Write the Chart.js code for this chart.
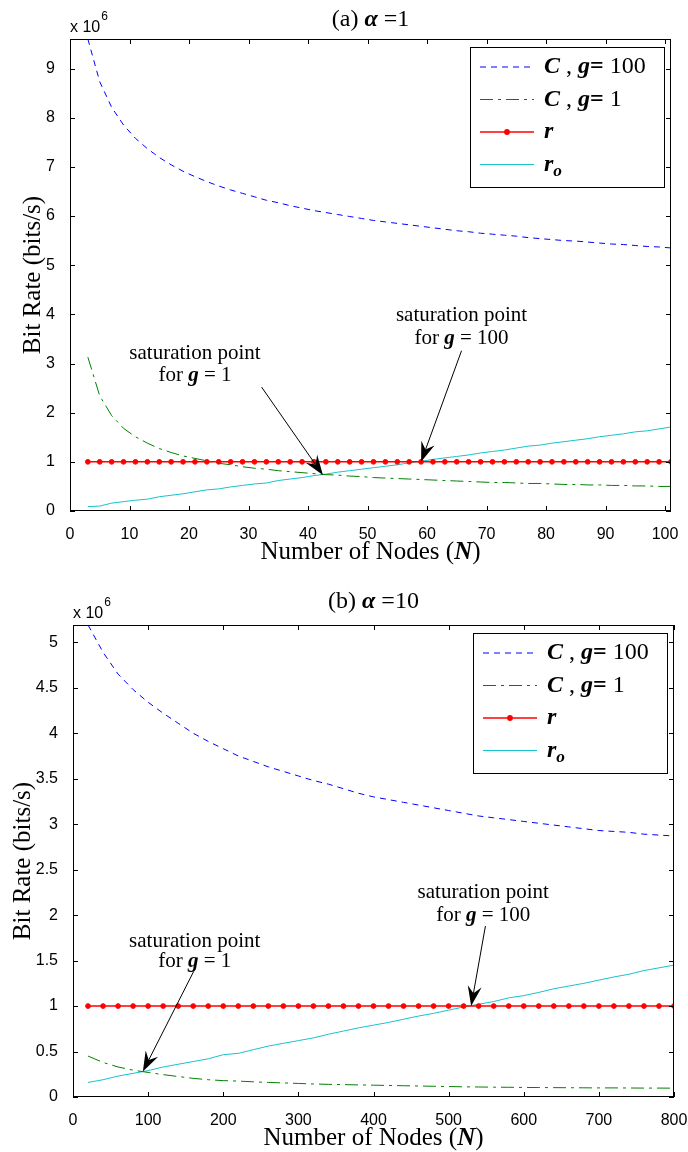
<!DOCTYPE html>
<html>
<head>
<meta charset="utf-8">
<title>Bit rate vs number of nodes</title>
<script src="https://cdn.jsdelivr.net/npm/chart.js@4.4.1/dist/chart.umd.min.js"></script>
<style>
  body { margin: 0; background: #fff; }
  .panel { position: absolute; left: 0; width: 688px; height: 576px; }
</style>
</head>
<body>
<div class="panel" style="top:0"><canvas id="chartA" width="688" height="576"></canvas></div>
<div class="panel" style="top:576px"><canvas id="chartB" width="688" height="576"></canvas></div>
<script>
// (a) alpha = 1, values in units of 10^6 bits/s
const nodesA = [3, 5, 7, 9, 11, 13, 15, 17, 19, 21, 23, 25, 27, 29, 31, 33, 35, 37, 39, 41, 43, 45, 47, 49, 51,
                53, 55, 57, 59, 61, 63, 65, 67, 69, 71, 73, 75, 77, 79, 81, 83, 85, 87, 89, 91, 93, 95, 97, 99, 101];
const capG100A = [9.60, 8.73, 8.21, 7.85, 7.58, 7.37, 7.19, 7.04, 6.91, 6.80, 6.70, 6.61, 6.53, 6.46, 6.39, 6.32, 6.27,
                  6.21, 6.16, 6.11, 6.07, 6.03, 5.99, 5.95, 5.91, 5.88, 5.85, 5.82, 5.79, 5.76, 5.73, 5.70, 5.68, 5.65,
                  5.63, 5.61, 5.59, 5.56, 5.54, 5.52, 5.50, 5.49, 5.47, 5.45, 5.43, 5.42, 5.40, 5.38, 5.37, 5.35];
const capG1A = [3.13, 2.34, 1.94, 1.68, 1.51, 1.38, 1.27, 1.19, 1.12, 1.07, 1.02, 0.97, 0.94, 0.90, 0.87, 0.85, 0.82,
                0.80, 0.78, 0.76, 0.74, 0.73, 0.71, 0.70, 0.68, 0.67, 0.66, 0.65, 0.64, 0.63, 0.62, 0.61, 0.60, 0.59,
                0.58, 0.58, 0.57, 0.56, 0.56, 0.55, 0.54, 0.54, 0.53, 0.53, 0.52, 0.52, 0.51, 0.51, 0.50, 0.50];
const rateA = [1, 1, 1, 1, 1, 1, 1, 1, 1, 1, 1, 1, 1, 1, 1, 1, 1, 1, 1, 1, 1, 1, 1, 1, 1,
               1, 1, 1, 1, 1, 1, 1, 1, 1, 1, 1, 1, 1, 1, 1, 1, 1, 1, 1, 1, 1, 1, 1, 1, 1];
const rateOA = [0.09, 0.10, 0.16, 0.19, 0.22, 0.24, 0.29, 0.32, 0.35, 0.39, 0.43, 0.45, 0.49, 0.52, 0.55, 0.57, 0.62,
                0.65, 0.68, 0.72, 0.75, 0.79, 0.82, 0.85, 0.88, 0.91, 0.94, 0.98, 1.01, 1.05, 1.08, 1.11, 1.14, 1.18,
                1.21, 1.24, 1.28, 1.32, 1.34, 1.38, 1.41, 1.44, 1.47, 1.51, 1.54, 1.57, 1.61, 1.63, 1.67, 1.71];
const xTicksA = [0, 10, 20, 30, 40, 50, 60, 70, 80, 90, 100];
const yTicksA = [0, 1, 2, 3, 4, 5, 6, 7, 8, 9];

// (b) alpha = 10
const nodesB = [20, 40, 60, 80, 100, 120, 140, 160, 180, 200, 220, 240, 260, 280, 300, 320, 340, 360, 380, 400,
                420, 440, 460, 480, 500, 520, 540, 560, 580, 600, 620, 640, 660, 680, 700, 720, 740, 760, 780, 800];
const capG100B = [5.19, 4.89, 4.65, 4.48, 4.34, 4.22, 4.11, 4.00, 3.91, 3.83, 3.75, 3.69, 3.63, 3.58, 3.53, 3.48, 3.44,
                  3.39, 3.34, 3.30, 3.27, 3.24, 3.21, 3.18, 3.15, 3.12, 3.09, 3.07, 3.05, 3.03, 3.01, 2.99, 2.97, 2.95,
                  2.93, 2.92, 2.91, 2.89, 2.88, 2.87];
const capG1B = [0.45, 0.38, 0.33, 0.295, 0.27, 0.246, 0.225, 0.205, 0.19, 0.18, 0.175, 0.167, 0.16, 0.155, 0.149, 0.143,
                0.139, 0.136, 0.133, 0.13, 0.127, 0.124, 0.121, 0.118, 0.115, 0.112, 0.11, 0.108, 0.107, 0.105, 0.104,
                0.103, 0.102, 0.101, 0.1, 0.1, 0.099, 0.098, 0.098, 0.097];
const rateB = [1, 1, 1, 1, 1, 1, 1, 1, 1, 1, 1, 1, 1, 1, 1, 1, 1, 1, 1, 1,
               1, 1, 1, 1, 1, 1, 1, 1, 1, 1, 1, 1, 1, 1, 1, 1, 1, 1, 1, 1];
const rateOB = [0.16, 0.19, 0.23, 0.26, 0.29, 0.33, 0.36, 0.39, 0.42, 0.465, 0.48, 0.52, 0.56, 0.59, 0.62, 0.65, 0.69,
                0.725, 0.76, 0.79, 0.82, 0.855, 0.89, 0.92, 0.955, 0.99, 1.02, 1.05, 1.09, 1.115, 1.15, 1.19, 1.22,
                1.25, 1.285, 1.32, 1.35, 1.39, 1.42, 1.45];
const xTicksB = [0, 100, 200, 300, 400, 500, 600, 700, 800];
const yTicksB = [0, 0.5, 1, 1.5, 2, 2.5, 3, 3.5, 4, 4.5, 5];

const SERIF = '"Liberation Serif", "Times New Roman", serif';
const SANS = '"Liberation Sans", Arial, sans-serif';

// legend labels, same for both panels
const legendLabels = [
    [{ t: 'C', s: 'bi' }, { t: ' , ' }, { t: 'g', s: 'bi' }, { t: '= ', s: 'b' }, { t: '100' }],
    [{ t: 'C', s: 'bi' }, { t: ' , ' }, { t: 'g', s: 'bi' }, { t: '= ', s: 'b' }, { t: '1' }],
    [{ t: 'r', s: 'bi' }],
    [{ t: 'r', s: 'bi' }, { t: 'o', s: 'bi', sub: true }]
];

function partFont(p, size) {
    var f = '';
    if (p.s === 'bi') f = 'italic bold ';
    else if (p.s === 'b') f = 'bold ';
    return f + size + 'px ' + SERIF;
}

// draw text made of differently styled pieces
function drawRich(ctx, parts, x, y, size, align) {
    var total = 0;
    var widths = parts.map(function (p) {
        ctx.font = partFont(p, p.sub ? size * 0.72 : size);
        var w = ctx.measureText(p.t).width;
        total += w;
        return w;
    });
    var cx = align === 'center' ? x - total / 2 : x;
    ctx.textAlign = 'left';
    parts.forEach(function (p, i) {
        ctx.font = partFont(p, p.sub ? size * 0.72 : size);
        ctx.fillText(p.t, cx, p.sub ? y + size * 0.3 : y);
        cx += widths[i];
    });
}

function drawArrow(ctx, x1, y1, x2, y2) {
    var dx = x2 - x1, dy = y2 - y1, len = Math.hypot(dx, dy);
    var ux = dx / len, uy = dy / len, nx = -uy, ny = ux;
    var L = 20, W = 7, back = 13;
    ctx.beginPath();
    ctx.moveTo(x1, y1);
    ctx.lineTo(x2 - ux * back, y2 - uy * back);
    ctx.stroke();
    ctx.beginPath();
    ctx.moveTo(x2, y2);
    ctx.lineTo(x2 - ux * L + nx * W, y2 - uy * L + ny * W);
    ctx.lineTo(x2 - ux * back, y2 - uy * back);
    ctx.lineTo(x2 - ux * L - nx * W, y2 - uy * L - ny * W);
    ctx.closePath();
    ctx.fill();
}

// matlab-like decorations: box, inward ticks, titles, legend, notes
function makeDeco(cfg) {
    return {
        id: 'deco',
        afterDraw: function (chart) {
            var ctx = chart.ctx, a = chart.chartArea, x = chart.scales.x, y = chart.scales.y;
            ctx.save();
            ctx.strokeStyle = '#000';
            ctx.fillStyle = '#000';
            ctx.lineWidth = 1;
            ctx.setLineDash([]);

            // box and tick marks
            ctx.strokeRect(a.left + 0.5, a.top + 0.5, a.right - a.left - 1, a.bottom - a.top - 1);
            ctx.beginPath();
            x.ticks.forEach(function (t) {
                var px = Math.round(x.getPixelForValue(t.value)) + 0.5;
                ctx.moveTo(px, a.bottom); ctx.lineTo(px, a.bottom - 5);
                ctx.moveTo(px, a.top); ctx.lineTo(px, a.top + 5);
            });
            y.ticks.forEach(function (t) {
                var py = Math.round(y.getPixelForValue(t.value)) + 0.5;
                ctx.moveTo(a.left, py); ctx.lineTo(a.left + 5, py);
                ctx.moveTo(a.right, py); ctx.lineTo(a.right - 5, py);
            });
            ctx.stroke();

            // x 10^6
            ctx.textBaseline = 'alphabetic';
            ctx.textAlign = 'left';
            ctx.font = '16px ' + SANS;
            ctx.fillText('x 10', a.left, a.top - 7);
            var w = ctx.measureText('x 10').width;
            ctx.font = '12px ' + SANS;
            ctx.fillText('6', a.left + w + 1, a.top - 19);

            // title and axis titles
            var cx = (a.left + a.right) / 2;
            drawRich(ctx, cfg.title, cx, a.top - cfg.titleGap, 24, 'center');
            drawRich(ctx, [{ t: 'Number of Nodes (' }, { t: 'N', s: 'bi' }, { t: ')' }], cx, a.bottom + 48, 25, 'center');
            ctx.save();
            ctx.translate(cfg.yTitleX, (a.top + a.bottom) / 2);
            ctx.rotate(-Math.PI / 2);
            ctx.textBaseline = 'middle';
            drawRich(ctx, [{ t: 'Bit Rate (bits/s)' }], 0, 0, 25, 'center');
            ctx.restore();

            // notes with arrows
            ctx.textBaseline = 'middle';
            cfg.notes.forEach(function (n) {
                var px = x.getPixelForValue(n.x);
                n.lines.forEach(function (ln, i) {
                    drawRich(ctx, ln, px, y.getPixelForValue(n.y[i]), 21, 'center');
                });
                drawArrow(ctx, x.getPixelForValue(n.from[0]), y.getPixelForValue(n.from[1]),
                    x.getPixelForValue(n.to[0]), y.getPixelForValue(n.to[1]));
            });

            // legend
            var bw = 194, bh = 140;
            var bx = a.right - 7 - bw, by = a.top + 8;
            ctx.fillStyle = '#fff';
            ctx.fillRect(bx, by, bw, bh);
            ctx.strokeStyle = '#000';
            ctx.strokeRect(bx + 0.5, by + 0.5, bw, bh);
            chart.data.datasets.forEach(function (ds, i) {
                var ry = by + 20 + i * 32.5;
                ctx.strokeStyle = ds.borderColor;
                ctx.lineWidth = ds.borderWidth;
                ctx.setLineDash(ds.borderDash || []);
                ctx.beginPath();
                ctx.moveTo(bx + 10, ry);
                ctx.lineTo(bx + 64, ry);
                ctx.stroke();
                ctx.setLineDash([]);
                if (ds.pointRadius > 0) {
                    ctx.fillStyle = ds.pointBackgroundColor;
                    ctx.beginPath();
                    ctx.arc(bx + 37, ry, ds.pointRadius + 0.5, 0, Math.PI * 2);
                    ctx.fill();
                }
                ctx.fillStyle = '#000';
                drawRich(ctx, legendLabels[i], bx + 74, ry, 24, 'left');
            });
            ctx.restore();
        }
    };
}

function series(nodes, vals) {
    return nodes.map(function (n, i) { return { x: n, y: vals[i] }; });
}

function makeDatasets(nodes, capG100, capG1, rate, rateO) {
    return [
        { data: series(nodes, capG100), borderColor: '#0000ff', borderWidth: 1, borderDash: [6, 5], pointRadius: 0 },
        { data: series(nodes, capG1), borderColor: '#008000', borderWidth: 1, borderDash: [13, 5, 3, 5], pointRadius: 0 },
        { data: series(nodes, rate), borderColor: '#ff0000', borderWidth: 1.5, pointRadius: 2.4,
          pointBackgroundColor: '#ff0000', pointBorderColor: '#ff0000', pointBorderWidth: 1 },
        { data: series(nodes, rateO), borderColor: '#17c3cc', borderWidth: 1, pointRadius: 0 }
    ];
}

function makeScales(xMax, yMax, xTicks, yTicks, yWidth, xHeight) {
    return {
        x: {
            type: 'linear', min: 0, max: xMax,
            afterBuildTicks: function (s) { s.ticks = xTicks.map(function (v) { return { value: v }; }); },
            afterFit: function (s) { s.height = xHeight; s.paddingLeft = 0; s.paddingRight = 0; },
            grid: { display: false }, border: { display: false },
            ticks: { color: '#000', font: { family: SANS, size: 16 }, padding: 6, maxRotation: 0, autoSkip: false,
                     callback: function (v) { return String(v); } }
        },
        y: {
            type: 'linear', min: 0, max: yMax,
            afterBuildTicks: function (s) { s.ticks = yTicks.map(function (v) { return { value: v }; }); },
            afterFit: function (s) { s.width = yWidth; s.paddingTop = 0; s.paddingBottom = 0; },
            grid: { display: false }, border: { display: false },
            ticks: { color: '#000', font: { family: SANS, size: 16 }, padding: 7, autoSkip: false,
                     callback: function (v) { return String(v); } }
        }
    };
}

function baseOptions(scales, pad) {
    return {
        responsive: false, animation: false, devicePixelRatio: 1, events: [],
        layout: { padding: pad },
        plugins: { legend: { display: false }, tooltip: { enabled: false }, title: { display: false } },
        scales: scales
    };
}

new Chart(document.getElementById('chartA'), {
    type: 'line',
    data: { datasets: makeDatasets(nodesA, capG100A, capG1A, rateA, rateOA) },
    options: baseOptions(makeScales(101, 9.6, xTicksA, yTicksA, 70, 65), { top: 39, right: 17, left: 0, bottom: 0 }),
    plugins: [makeDeco({
        title: [{ t: '(a) ' }, { t: 'α', s: 'bi' }, { t: ' =1' }],
        titleGap: 13,
        yTitleX: 33,
        notes: [
            { x: 21, y: [3.21, 2.75], from: [32.2, 2.52], to: [42.5, 0.73],
              lines: [[{ t: 'saturation point' }], [{ t: 'for ' }, { t: 'g', s: 'bi' }, { t: ' = 1' }]] },
            { x: 65.8, y: [3.97, 3.51], from: [65.8, 3.26], to: [59, 1.0],
              lines: [[{ t: 'saturation point' }], [{ t: 'for ' }, { t: 'g', s: 'bi' }, { t: ' = 100' }]] }
        ]
    })]
});

new Chart(document.getElementById('chartB'), {
    type: 'line',
    data: { datasets: makeDatasets(nodesB, capG100B, capG1B, rateB, rateOB) },
    options: baseOptions(makeScales(800, 5.19, xTicksB, yTicksB, 73, 55), { top: 49, right: 14, left: 0, bottom: 0 }),
    plugins: [makeDeco({
        title: [{ t: '(b) ' }, { t: 'α', s: 'bi' }, { t: ' =10' }],
        titleGap: 17,
        yTitleX: 23,
        notes: [
            { x: 162, y: [1.71, 1.49], from: [160.6, 1.38], to: [93, 0.28],
              lines: [[{ t: 'saturation point' }], [{ t: 'for ' }, { t: 'g', s: 'bi' }, { t: ' = 1' }]] },
            { x: 546, y: [2.25, 2.0], from: [549, 1.88], to: [530, 1.0],
              lines: [[{ t: 'saturation point' }], [{ t: 'for ' }, { t: 'g', s: 'bi' }, { t: ' = 100' }]] }
        ]
    })]
});
</script>
</body>
</html>
